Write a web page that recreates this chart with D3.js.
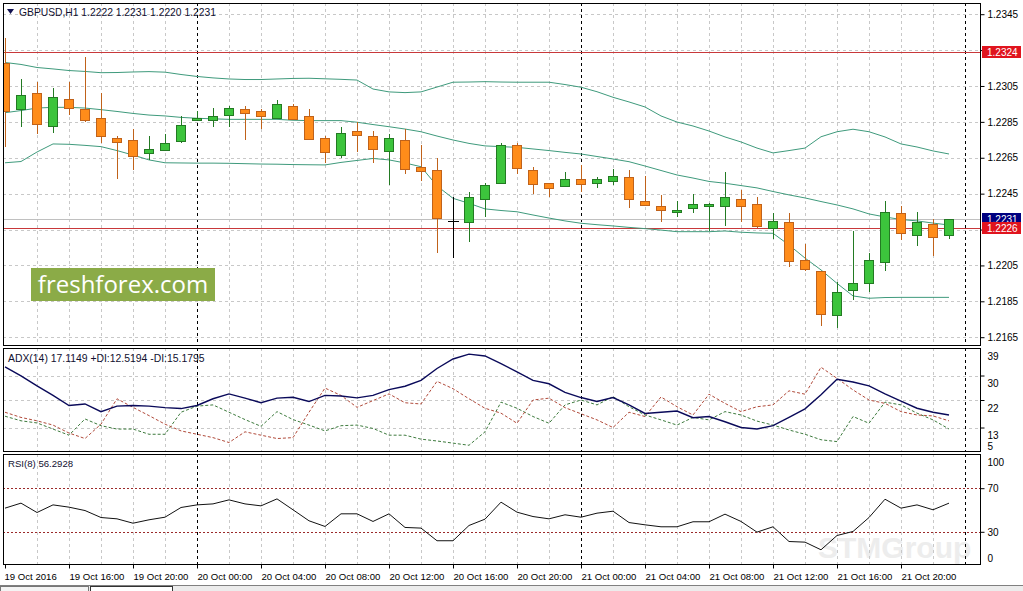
<!DOCTYPE html>
<html><head><meta charset="utf-8">
<script src="https://cdn.jsdelivr.net/npm/d3@7"></script>
<style>
body{margin:0;background:#fff;overflow:hidden}
svg{display:block}
text{font-family:"Liberation Sans",Arial,sans-serif}
</style>
</head><body>
<svg id="c" width="1023" height="591"></svg>
<script>
// ---------------- DATA ----------------
const timeLabels = ["19 Oct 2016","19 Oct 16:00","19 Oct 20:00","20 Oct 00:00","20 Oct 04:00","20 Oct 08:00","20 Oct 12:00","20 Oct 16:00","20 Oct 20:00","21 Oct 00:00","21 Oct 04:00","21 Oct 08:00","21 Oct 12:00","21 Oct 16:00","21 Oct 20:00"];
const dayBreaks = [12, 36, 60];
const open  = [1.2318,1.2292,1.2301,1.2283,1.2298,1.2292,1.2287,1.2276,1.2275,1.2268,1.2269,1.2274,1.2286,1.2286,1.2289,1.2292,1.2291,1.2287,1.2294,1.2288,1.2276,1.2267,1.2280,1.2277,1.2269,1.2275,1.2260,1.2258,1.2230,1.2229,1.2242,1.2251,1.2272,1.2258,1.2251,1.2249,1.2253,1.2251,1.2252,1.2254,1.2241,1.2238,1.2235,1.2237,1.2238,1.2238,1.2242,1.2239,1.2226,1.2229,1.2208,1.2202,1.2177,1.2191,1.2195,1.2207,1.2234,1.2222,1.2228,1.2222];
const high  = [1.2332,1.2309,1.2307,1.2304,1.2307,1.2321,1.2301,1.2277,1.2281,1.2277,1.2278,1.2288,1.2291,1.2293,1.2294,1.2294,1.2292,1.2297,1.2295,1.2292,1.2277,1.2282,1.2285,1.2280,1.2278,1.2281,1.2272,1.2265,1.2243,1.2246,1.2251,1.2273,1.2273,1.2260,1.2251,1.2257,1.2261,1.2254,1.2259,1.2258,1.2255,1.2244,1.2241,1.2245,1.2240,1.2257,1.2247,1.2243,1.2234,1.2234,1.2217,1.2202,1.2196,1.2224,1.2212,1.2241,1.2238,1.2235,1.2231,1.2231];
const low   = [1.2271,1.2282,1.2278,1.2279,1.2289,1.2285,1.2273,1.2253,1.2258,1.2264,1.2269,1.2273,1.2286,1.2282,1.2282,1.2275,1.2281,1.2287,1.2286,1.2275,1.2262,1.2265,1.2268,1.2262,1.2250,1.2256,1.2252,1.2212,1.2209,1.2218,1.2232,1.2251,1.2256,1.2245,1.2243,1.2249,1.2246,1.2248,1.2250,1.2237,1.2239,1.2229,1.2232,1.2234,1.2224,1.2227,1.2229,1.2226,1.2220,1.2204,1.2202,1.2171,1.2170,1.2186,1.2190,1.2202,1.2219,1.2216,1.2210,1.2220];
const close = [1.2291,1.2300,1.2284,1.2299,1.2293,1.2286,1.2277,1.2274,1.2266,1.2270,1.2273,1.2283,1.2287,1.2288,1.2293,1.2290,1.2288,1.2295,1.2287,1.2275,1.2268,1.2279,1.2278,1.2270,1.2276,1.2259,1.2258,1.2231,1.2230,1.2243,1.2250,1.2272,1.2259,1.2250,1.2248,1.2253,1.2250,1.2253,1.2255,1.2242,1.2239,1.2236,1.2236,1.2239,1.2239,1.2243,1.2238,1.2227,1.2230,1.2207,1.2203,1.2178,1.2190,1.2195,1.2208,1.2235,1.2223,1.2229,1.2221,1.2231];

const bbUpper  = [1.23181,1.23170,1.23153,1.23145,1.23136,1.23131,1.23124,1.23125,1.23128,1.23130,1.23127,1.23114,1.23103,1.23095,1.23089,1.23086,1.23086,1.23089,1.23092,1.23093,1.23090,1.23087,1.23083,1.23033,1.23017,1.23013,1.23017,1.23044,1.23071,1.23072,1.23074,1.23072,1.23071,1.23071,1.23071,1.23058,1.23043,1.23018,1.22987,1.22961,1.22933,1.22883,1.22849,1.22827,1.22799,1.22766,1.22738,1.22704,1.22677,1.22690,1.22704,1.22767,1.22795,1.22809,1.22795,1.22766,1.22727,1.22710,1.22688,1.22671];
const bbMiddle = [1.22901,1.22913,1.22927,1.22931,1.22931,1.22927,1.22918,1.22908,1.22897,1.22888,1.22883,1.22875,1.22870,1.22867,1.22864,1.22864,1.22864,1.22864,1.22859,1.22857,1.22857,1.22857,1.22848,1.22835,1.22823,1.22810,1.22795,1.22771,1.22749,1.22730,1.22716,1.22712,1.22708,1.22699,1.22690,1.22680,1.22671,1.22657,1.22643,1.22628,1.22604,1.22579,1.22554,1.22537,1.22518,1.22508,1.22495,1.22482,1.22462,1.22443,1.22426,1.22406,1.22387,1.22365,1.22337,1.22320,1.22306,1.22298,1.22286,1.22275];
const bbLower  = [1.22622,1.22629,1.22682,1.22727,1.22725,1.22719,1.22712,1.22690,1.22665,1.22638,1.22622,1.22621,1.22620,1.22620,1.22619,1.22617,1.22615,1.22614,1.22612,1.22611,1.22610,1.22624,1.22635,1.22646,1.22638,1.22621,1.22600,1.22493,1.22424,1.22396,1.22365,1.22356,1.22349,1.22331,1.22314,1.22298,1.22285,1.22277,1.22270,1.22262,1.22255,1.22247,1.22238,1.22238,1.22238,1.22242,1.22235,1.22231,1.22229,1.22164,1.22091,1.22025,1.21950,1.21880,1.21867,1.21871,1.21872,1.21872,1.21872,1.21872];

const adx     = [32.8,29.9,26.6,23.5,20.2,20.7,18.2,20.0,20.2,20.0,19.5,19.2,20.2,22.4,24.0,22.6,21.1,22.6,22.9,21.5,23.5,23.3,22.7,23.5,25.4,26.5,28.4,32.3,35.4,37.0,36.4,33.9,31.2,28.4,27.3,24.5,22.8,21.5,22.8,20.4,17.6,18.0,18.4,16.2,16.6,14.9,13.0,12.5,13.6,16.3,19.1,23.7,28.8,27.9,26.6,24.0,21.6,19.3,18.0,17.1149];
const plusDI  = [16.7,15.2,14.5,12.5,10.5,15.8,13.6,12.5,12.5,10.8,10.8,18.0,20.0,20.4,18.0,15.6,13.4,18.2,15.6,13.8,11.9,13.6,13.8,12.7,10.5,10.5,9.2,8.6,7.9,7.2,11.6,21.3,19.3,16.6,14.4,20.4,22.0,20.4,23.1,19.8,17.1,15.5,13.8,16.3,15.5,18.2,17.1,15.1,13.8,12.2,10.8,9.0,8.4,16.6,14.4,21.3,20.4,17.7,15.5,12.5194];
const minusDI = [18.0,16.3,15.2,13.8,11.2,9.4,14.1,22.4,19.6,16.9,14.1,11.9,10.8,9.7,8.1,11.6,10.5,9.4,9.7,18.0,25.9,23.5,19.6,21.8,24.0,21.1,20.7,28.1,25.7,22.4,19.3,17.7,14.4,22.0,22.6,19.5,17.5,15.5,13.0,18.0,16.6,23.0,19.8,17.1,23.9,20.9,18.2,19.8,20.4,25.0,23.9,32.7,29.1,25.3,22.0,20.9,18.2,17.1,16.8,15.1795];
const rsi     = [51.7,56.3,47.7,54.7,52.6,49.5,43.1,41.9,37.9,41.0,43.4,52.3,54.7,55.6,59.3,55.6,53.8,60.2,50.2,40.1,34.9,46.5,46.5,39.5,46.5,34.0,33.4,21.8,21.8,35.8,41.6,57.2,48.0,44.0,41.9,45.6,43.4,47.1,48.9,38.5,36.4,34.6,34.6,39.2,39.2,46.2,39.5,29.7,34.6,21.1,20.5,13.5,26.6,30.3,43.1,59.9,51.7,54.7,50.2,56.2928];

const priceTicks = [1.2345,1.2325,1.2305,1.2285,1.2265,1.2245,1.2225,1.2205,1.2185,1.2165];
const priceTickLabels = ["1.2345","","1.2305","1.2285","1.2265","1.2245","","1.2205","1.2185","1.2165"];
const adxTicks = [39,30,22,13,5];
const adxGrid = [30,22,13];
const rsiTicks = [100,70,30,0];
const rsiLevels = [70,30];
const hLines = [1.2324, 1.2226];
const bidPrice = 1.2231;

// ---------------- LAYOUT ----------------
const svg = d3.select("#c");
const L = 3, R = 981;
const P = {main:[3,346], adx:[348,452], rsi:[454,565]};
const n = close.length;
const x = d3.scaleLinear().domain([0, n-1]).range([5, 5 + 16*(n-1)]);
const y = d3.scaleLinear().domain([1.2165, 1.2345]).range([337.2, 14.2]);
const yA = d3.scaleLinear().domain([5, 39]).range([452, 348]);
const yR = d3.scaleLinear().domain([0, 100]).range([564.5, 455.5]);

const defs = svg.append("defs");
Object.entries(P).forEach(([k,[t,b]]) => {
  defs.append("clipPath").attr("id","clip-"+k).append("rect")
    .attr("x",L+0.5).attr("y",t+0.5).attr("width",R-L-1).attr("height",b-t-1);
});

// watermark (very faint)
svg.append("text").attr("x",818).attr("y",558).attr("font-size",30).attr("fill","#ededed")
  .attr("font-weight","bold").text("STMGroup");

// grids
const gridG = svg.append("g").attr("shape-rendering","crispEdges");
const vIdx = d3.range(2, 61, 2);
Object.entries(P).forEach(([k,[t,b]]) => {
  const g = gridG.append("g").attr("clip-path","url(#clip-"+k+")");
  g.selectAll("line.v").data(vIdx.filter(d=>!dayBreaks.includes(d))).join("line")
    .attr("x1",d=>Math.round(x(d))+0.5).attr("x2",d=>Math.round(x(d))+0.5)
    .attr("y1",t).attr("y2",b).attr("stroke","#c8c8c8").attr("stroke-dasharray","3,3");
  let hv = [];
  if (k==="main") hv = priceTicks.map(p=>y(p));
  if (k==="adx") hv = adxGrid.map(v=>yA(v));
  g.selectAll("line.h").data(hv).join("line")
    .attr("x1",L).attr("x2",R).attr("y1",d=>Math.round(d)+0.5).attr("y2",d=>Math.round(d)+0.5)
    .attr("stroke","#c8c8c8").attr("stroke-dasharray","3,3");
  if (k==="rsi") {
    g.selectAll("line.lv").data(rsiLevels).join("line")
      .attr("x1",L).attr("x2",R).attr("y1",d=>Math.round(yR(d))+0.5).attr("y2",d=>Math.round(yR(d))+0.5)
      .attr("stroke","#9b2a2a").attr("stroke-dasharray","2,2");
  }
  g.selectAll("line.d").data(dayBreaks).join("line")
    .attr("x1",d=>Math.round(x(d))+0.5).attr("x2",d=>Math.round(x(d))+0.5)
    .attr("y1",t).attr("y2",b).attr("stroke","#000").attr("stroke-dasharray","3,3");
});

// ---------------- MAIN PANEL ----------------
const mg = svg.append("g").attr("clip-path","url(#clip-main)");
mg.append("line").attr("x1",L).attr("x2",R).attr("y1",Math.round(y(bidPrice))+0.5).attr("y2",Math.round(y(bidPrice))+0.5)
  .attr("stroke","#c0c0c0").attr("shape-rendering","crispEdges");
mg.selectAll("line.hl").data(hLines).join("line")
  .attr("x1",L).attr("x2",R).attr("y1",d=>Math.round(y(d))+0.5).attr("y2",d=>Math.round(y(d))+0.5)
  .attr("stroke","#c8383a").attr("shape-rendering","crispEdges");

// bands
const bandLine = d3.line().x((d,i)=>x(i)).y(d=>y(d));
[bbUpper,bbMiddle,bbLower].forEach(arr=>{
  mg.append("path").attr("d",bandLine(arr)).attr("fill","none").attr("stroke","#3f9a7c").attr("stroke-width",1);
});

// candles
const candles = d3.range(n).map(i=>({i,o:open[i],h:high[i],l:low[i],c:close[i]}));
const cg = mg.append("g").attr("shape-rendering","crispEdges");
const col = d => d.c>d.o ? {fill:"#3cc43c",stroke:"#237a23"} : (d.c<d.o ? {fill:"#ff8c1a",stroke:"#c0621a"} : {fill:"#000",stroke:"#000"});
cg.selectAll("line.w").data(candles).join("line")
  .attr("x1",d=>x(d.i)+0.5).attr("x2",d=>x(d.i)+0.5)
  .attr("y1",d=>y(d.h)).attr("y2",d=>y(d.l))
  .attr("stroke",d=>col(d).stroke);
cg.selectAll("rect.b").data(candles.filter(d=>d.o!==d.c)).join("rect")
  .attr("x",d=>x(d.i)-4.5).attr("width",9)
  .attr("y",d=>Math.round(y(Math.max(d.o,d.c)))+0.5)
  .attr("height",d=>Math.max(1,Math.round(y(Math.min(d.o,d.c))-y(Math.max(d.o,d.c)))))
  .attr("fill",d=>col(d).fill).attr("stroke",d=>col(d).stroke);
cg.selectAll("line.dj").data(candles.filter(d=>d.o===d.c)).join("line")
  .attr("x1",d=>x(d.i)-5).attr("x2",d=>x(d.i)+6)
  .attr("y1",d=>Math.round(y(d.o))+0.5).attr("y2",d=>Math.round(y(d.o))+0.5)
  .attr("stroke","#000");

// logo
svg.append("rect").attr("x",31).attr("y",268).attr("width",184).attr("height",33).attr("fill","#8bab47");
svg.append("text").attr("x",123).attr("y",293).attr("text-anchor","middle").attr("fill","#fff")
  .attr("font-size",24).style("font-family","'Open Sans',sans-serif").text("freshforex.com");

// header
svg.append("path").attr("d","M7,9 L14,9 L10.5,14 Z").attr("fill","#101050");
svg.append("text").attr("x",19).attr("y",16).attr("font-size",10.3).attr("fill","#101030")
  .text("GBPUSD,H1  1.2222 1.2231 1.2220 1.2231");

// ---------------- ADX PANEL ----------------
const ag = svg.append("g").attr("clip-path","url(#clip-adx)");
const lA = d3.line().x((d,i)=>x(i)).y(d=>yA(d));
ag.append("path").attr("d",lA(plusDI)).attr("fill","none").attr("stroke","#3d7a3d").attr("stroke-dasharray","3,2");
ag.append("path").attr("d",lA(minusDI)).attr("fill","none").attr("stroke","#b04a3a").attr("stroke-dasharray","3,2");
ag.append("path").attr("d",lA(adx)).attr("fill","none").attr("stroke","#0a0a5a").attr("stroke-width",1.4);
svg.append("text").attr("x",8).attr("y",362).attr("font-size",10.4).attr("fill","#101030")
  .text("ADX(14) 17.1149 +DI:12.5194 -DI:15.1795");

// ---------------- RSI PANEL ----------------
const rg = svg.append("g").attr("clip-path","url(#clip-rsi)");
rg.append("path").attr("d",d3.line().x((d,i)=>x(i)).y(d=>yR(d))(rsi)).attr("fill","none").attr("stroke","#111").attr("stroke-width",1);
svg.append("text").attr("x",8).attr("y",467).attr("font-size",9.6).attr("fill","#101030").text("RSI(8) 56.2928");

// ---------------- BORDERS ----------------
const bg = svg.append("g").attr("shape-rendering","crispEdges");
Object.values(P).forEach(([t,b])=>{
  bg.append("rect").attr("x",L+0.5).attr("y",t+0.5).attr("width",R-L-1).attr("height",b-t-1)
    .attr("fill","none").attr("stroke","#000");
});

// ---------------- AXES ----------------
const styleAxis = g => {
  g.select(".domain").remove();
  g.selectAll("line").attr("stroke","#000");
  g.selectAll("text").attr("fill","#000").attr("font-size",10).style("font-family","'Liberation Sans',Arial,sans-serif");
};
svg.append("g").attr("transform",`translate(${R-0.5},0)`)
  .call(d3.axisRight(y).tickValues(priceTicks).tickSize(4).tickPadding(3).tickFormat((d,i)=>priceTickLabels[i]))
  .call(styleAxis);

svg.append("g").attr("transform",`translate(${R-0.5},0)`)
  .call(d3.axisRight(yA).tickValues(adxTicks).tickSize(4).tickPadding(3).tickFormat(d3.format("d")))
  .call(styleAxis)
  .call(g=>g.selectAll(".tick").filter(d=>d===39||d===5).select("line").remove())
  .call(g=>g.selectAll(".tick text").attr("dy",d=> d===5 ? "-0.3em" : "1.1em"));

svg.append("g").attr("transform",`translate(${R-0.5},0)`)
  .call(d3.axisRight(yR).tickValues(rsiTicks).tickSize(4).tickPadding(3).tickFormat(d3.format("d")))
  .call(styleAxis)
  .call(g=>g.selectAll(".tick").filter(d=>d===100||d===0).select("line").remove())
  .call(g=>g.selectAll(".tick text").attr("dy",d=> d===100 ? "0.95em" : (d===0 ? "-0.3em" : "0.32em")));

// price boxes
const boxes = [{p:bidPrice,c:"#000080"},{p:1.2324,c:"#e0141e"},{p:1.2226,c:"#e0141e"}];
const pb = svg.append("g");
boxes.forEach(b=>{
  const yy = Math.round(y(b.p));
  pb.append("rect").attr("x",R+1).attr("y",yy-6).attr("width",39).attr("height",12).attr("fill",b.c);
  pb.append("text").attr("x",R+6).attr("y",yy+4).attr("fill","#fff").attr("font-size",10).text(b.p.toFixed(4));
});

// x axis
const xTicks = d3.range(0, n, 4);
svg.append("g").attr("transform",`translate(0,${P.rsi[1]-0.5})`)
  .call(d3.axisBottom(x).tickValues(xTicks).tickSize(4).tickPadding(3).tickFormat((d,i)=>timeLabels[i]))
  .call(styleAxis)
  .call(g=>g.selectAll(".tick text").attr("text-anchor","start").attr("dx",(d,i)=> i===0 ? -1 : 0).attr("font-size",9.6).attr("dy","0.9em"));

// bottom tabs
svg.append("line").attr("x1",0).attr("x2",1023).attr("y1",585.5).attr("y2",585.5).attr("stroke","#808080");
svg.append("rect").attr("x",0).attr("y",586).attr("width",1023).attr("height",5).attr("fill","#ececec");
svg.append("rect").attr("x",0.5).attr("y",586.5).attr("width",88).attr("height",6).attr("fill","#f4f4f4").attr("stroke","#777");
svg.append("rect").attr("x",90.5).attr("y",586.5).attr("width",82).attr("height",6).attr("fill","#fff").attr("stroke","#333");
</script>
</body></html>
